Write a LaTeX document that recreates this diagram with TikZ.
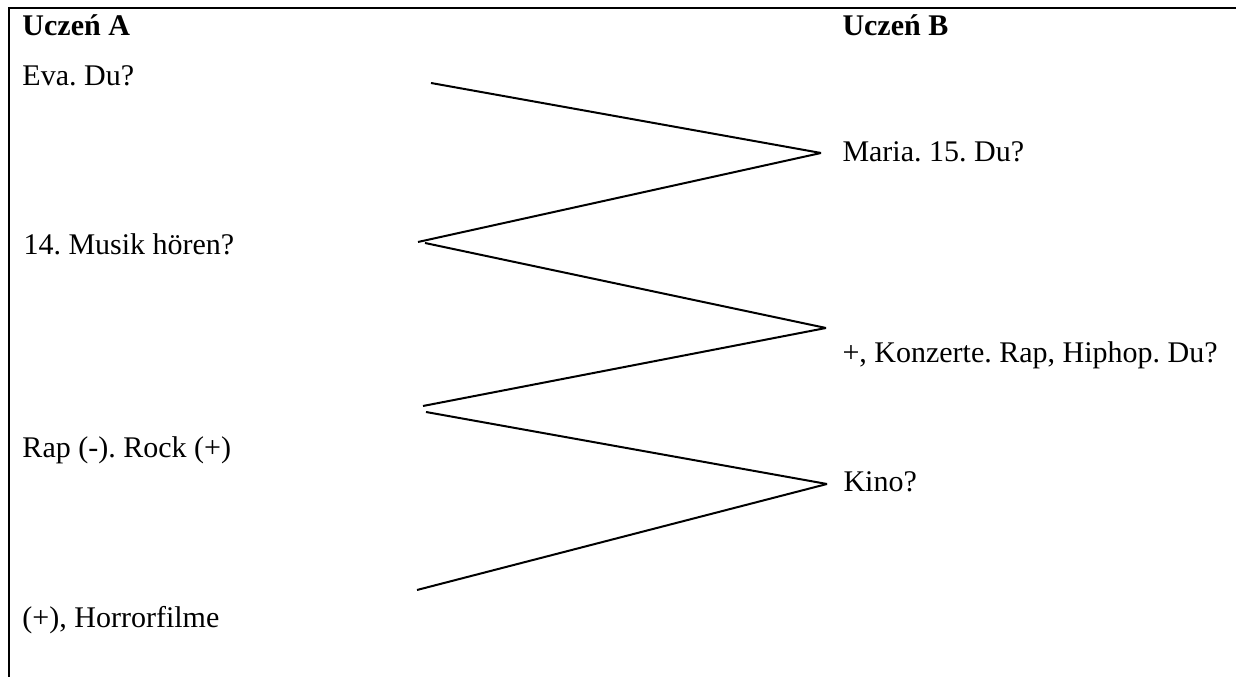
\documentclass[tikz,border=0pt]{standalone}
\usepackage{fontspec}
\setmainfont{Liberation Serif}
\frenchspacing
\begin{document}
\begin{tikzpicture}[x=0.4pt,y=-0.4pt,
    txt/.style={anchor=base west,inner sep=0pt,font=\fontsize{12}{14}\selectfont},
    zig/.style={line width=0.8pt}]
  \useasboundingbox (0,0) rectangle (1236,677);
  % frame
  \draw[line width=0.9pt] (1236,8) -- (9,8) -- (9,677);

  % left column
  \node[txt] (ua) at (22,36) {\textbf{Uczeń A}};
  \node[txt] (eva) at (22,86) {Eva. Du?};
  \node[txt] (musik) at (23,255) {14. Musik hören?};
  \node[txt] (rap) at (22,458) {Rap (-). Rock (+)};
  \node[txt] (horror) at (22,628) {(+), Horrorfilme};

  % right column
  \node[txt] (ub) at (842,36) {\textbf{Uczeń B}};
  \node[txt] (maria) at (842,162) {Maria. 15. Du?};
  \node[txt] (konz) at (842,363) {+, Konzerte. Rap, Hiphop. Du?};
  \node[txt] (kino) at (843,492) {Kino?};

  % zigzag
  \coordinate (l1) at (431,83);
  \coordinate (r1) at (821,153);
  \coordinate (l2) at (418,242);
  \coordinate (l2b) at (425,243);
  \coordinate (r2) at (826,328);
  \coordinate (l3) at (423,406);
  \coordinate (l3b) at (426,412);
  \coordinate (r3) at (827,484);
  \coordinate (l4) at (417,590);

  \draw[zig] (l1) -- (r1);
  \draw[zig] (r1) -- (l2);
  \draw[zig] (l2b) -- (r2);
  \draw[zig] (r2) -- (l3);
  \draw[zig] (l3b) -- (r3);
  \draw[zig] (r3) -- (l4);
\end{tikzpicture}
\end{document}
